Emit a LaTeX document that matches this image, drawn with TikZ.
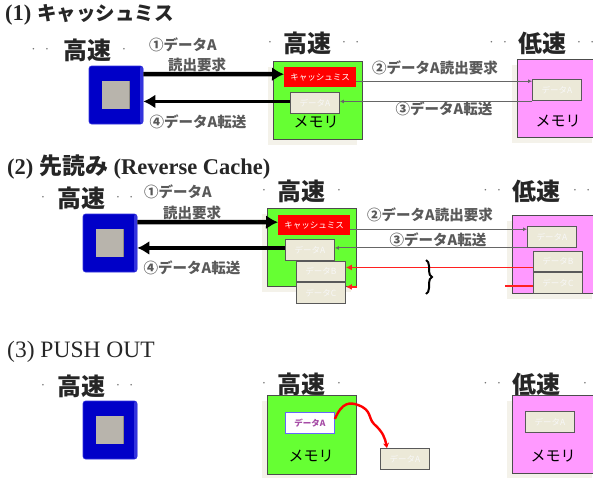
\documentclass[tikz,border=0pt]{standalone}
\usepackage{fontspec}
\setmainfont{Liberation Serif}
\newfontfamily\jpfont{Noto Sans CJK JP}
\usepackage{xcolor}
\usetikzlibrary{arrows.meta,positioning,shadows,decorations.pathreplacing}
\definecolor{cpublue}{HTML}{0000C8}
\definecolor{cpuedge}{HTML}{3333DD}
\definecolor{chipgray}{HTML}{B8B4AC}
\definecolor{chipedge}{HTML}{8E8B84}
\definecolor{memgreen}{HTML}{66FF33}
\definecolor{mempink}{HTML}{FF99FF}
\definecolor{databeige}{HTML}{ECE9D8}
\definecolor{halo}{HTML}{F4F2EA}
\definecolor{linkred}{HTML}{FF2020}
\begin{document}
\begin{tikzpicture}[x=1pt, y=-1pt,
  title/.style    = {anchor=west, inner sep=0pt, font=\fontsize{22.5}{24}\selectfont\bfseries, text=black!85},
  speed/.style    = {inner sep=0pt, font=\jpfont\fontsize{24}{26}\selectfont\bfseries, text=black!85},
  dotlab/.style   = {font=\fontsize{10}{12}\selectfont\bfseries, text=black!55, inner sep=0pt},
  cpu/.style      = {fill=cpublue, draw=cpuedge, line width=.6pt, rounded corners=2.5pt, minimum width=54pt, minimum height=58pt, inner sep=0pt,
                     path picture={\fill[cpuedge] ([xshift=-3pt]path picture bounding box.north east) rectangle (path picture bounding box.south east);}},
  chip/.style     = {fill=chipgray, minimum width=28pt, minimum height=28pt, inner sep=0pt,
                     path picture={\fill[chipedge] ([xshift=-1.5pt]path picture bounding box.north east) rectangle (path picture bounding box.south east);}},
  mem/.style      = {draw=black!70, line width=.9pt, anchor=north west, inner sep=0pt, minimum height=78pt,
                     drop shadow={shadow xshift=-5pt, shadow yshift=-6pt, fill=halo, opacity=1}},
  fastmem/.style  = {mem, fill=memgreen, minimum width=89pt},
  slowmem/.style  = {mem, fill=mempink},
  miss/.style     = {fill=red, anchor=north west, inner sep=0pt, minimum width=72pt, minimum height=20pt,
                     text=white, font=\jpfont\fontsize{8.5}{10}\selectfont},
  databox/.style  = {draw=black!65, line width=.9pt, fill=databeige, anchor=north west, inner sep=0pt,
                     minimum width=49pt, minimum height=21pt, text=black!3, font=\jpfont\fontsize{8.5}{10}\selectfont},
  memlab/.style   = {inner sep=0pt, font=\jpfont\fontsize{15}{17}\selectfont},
  lab/.style      = {inner sep=0pt, font=\jpfont\fontsize{14.5}{16}\selectfont\bfseries, text=black!65},
  bigarr/.style   = {-{Latex[length=12pt,width=14pt]}, line width=4.5pt},
  thinarr/.style  = {-{Latex[length=4pt,width=4pt]}, line width=1.1pt, draw=black!60},
  redarr/.style   = {-{Latex[length=6pt,width=6pt]}, line width=1.6pt, draw=linkred},
  redline/.style  = {line width=1.6pt, draw=linkred}
]
\useasboundingbox (0,0) rectangle (593,477);
%% ---- (1) ----------------------------------------------------------
\node[title] (titleA) at (5,15) {(1) {\jpfont\fontsize{19.5}{21}\selectfont キャッシュミス}};
\node[speed, label={[dotlab, label distance=14pt]left:·\hspace{10pt}·}, label={[dotlab, label distance=11pt]right:·}] (fastA) at (87,50) {高速};
\node[speed, label={[dotlab, label distance=11pt]left:·}, label={[dotlab, label distance=11pt]right:·\hspace{10pt}·}] (fastB) at (307,43) {高速};
\node[speed, label={[dotlab, label distance=11pt]left:·\hspace{10pt}·}, label={[dotlab, label distance=11pt]right:·\hspace{10pt}·}] (slowA) at (542,43) {低速};

\node[cpu] (cpuA) at (116,95) {};
\node[chip] at (cpuA) {};
\node[fastmem] (memA) at (273,61) {};
\node[slowmem, minimum width=80pt] (lowA) at (517,59) {};
\node[miss] (missA) at ([shift={(11,6)}]memA.north west) {キャッシュミス};
\node[databox] (dataA) at ([shift={(17,31)}]memA.north west) {データA};
\node[memlab] at (316,122) {メモリ};
\node[databox] (lowdataA) at ([shift={(15,20)}]lowA.north west) {データA};
\node[memlab] at (558,121) {メモリ};

\draw[bigarr] ([yshift=21pt]cpuA.east) -- ([yshift=3pt]missA.west);
\draw[bigarr, line width=3.5pt] ([yshift=1.5pt]dataA.west) -- ([yshift=1.5pt]dataA.west -| cpuA.east);
\draw[thinarr] ([yshift=-4pt]missA.east) -- ([yshift=-4pt]missA.east -| lowdataA.west);
\draw[thinarr] ([yshift=1.5pt]dataA.east -| lowdataA.west) -- ([yshift=1.5pt]dataA.east);

\node[lab] (reqA) at (183,45) {①データA};
\node[lab, below=6pt of reqA, xshift=14pt] {読出要求};
\node[lab] at (198,122) {④データA転送};
\node[lab] at (435,68) {②データA読出要求};
\node[lab] at (444,109) {③データA転送};

%% ---- (2) ----------------------------------------------------------
\node[title] (titleB) at (7,167) {(2) {\jpfont\fontsize{23}{25}\selectfont 先読み} (Reverse Cache)};
\node[speed, label={[dotlab, label distance=12pt]left:·}, label={[dotlab, label distance=11pt]right:·\hspace{10pt}·}] (fastC) at (81,198) {高速};
\node[speed, label={[dotlab, label distance=11pt]left:·}, label={[dotlab, label distance=12pt]right:·}] (fastD) at (301,191) {高速};
\node[speed, label={[dotlab, label distance=11pt]left:·\hspace{10pt}·}, label={[dotlab, label distance=13pt]right:·\hspace{10pt}·}] (slowB) at (536,191) {低速};

\node[cpu] (cpuB) at (110,243) {};
\node[chip] at (cpuB) {};
\node[fastmem] (memB) at (267,208) {};
\node[slowmem, minimum width=85pt] (lowB) at (512,215) {};
\node[miss] (missB) at ([shift={(11,7)}]memB.north west) {キャッシュミス};
\node[databox] (dataB) at ([shift={(18,31)}]memB.north west) {データA};
\node[databox, minimum height=20pt] (dataC) at (296,261) {データB};
\node[databox] (dataD) at (dataC.south west) {データC};
\node[databox] (lowdataB) at ([shift={(15,11)}]lowB.north west) {データA};
\node[databox, minimum height=20pt] (lowdataC) at (533,251) {データB};
\node[databox] (lowdataD) at (lowdataC.south west) {データC};

\draw[bigarr] ([yshift=21pt]cpuB.east) -- ([yshift=3pt]missB.west);
\draw[bigarr, line width=3.5pt] ([yshift=2pt]dataB.west) -- ([yshift=2pt]dataB.west -| cpuB.east);
\draw[thinarr] ([yshift=-4pt]missB.east) -- ([yshift=-4pt]missB.east -| lowdataB.west);
\draw[thinarr] (lowdataB.south west) -- (lowdataB.south west -| dataB.east);
\draw[redarr] ([yshift=-6pt]lowdataC.west) -- ([yshift=-6pt]lowdataC.west -| dataC.east);
\draw[redarr] (memB.south east) -- (memB.south east -| dataD.east);
\coordinate (redstub) at (505,286);
\draw[redline] (redstub) -- (redstub -| lowdataD.west);
\coordinate (braceT) at (426,260);
\coordinate (braceB) at (426,294);
\draw[line width=2pt, decorate, decoration={brace, amplitude=6pt}] (braceT) -- (braceB);

\node[lab] (reqB) at (178,192) {①データA};
\node[lab, below=6pt of reqB, xshift=14pt] {読出要求};
\node[lab] at (192,268) {④データA転送};
\node[lab] at (430,215) {②データA読出要求};
\node[lab] at (438,240) {③データA転送};

%% ---- (3) ----------------------------------------------------------
\node[title, font=\fontsize{23.5}{25}\selectfont] (titleC) at (7,352) {(3) PUSH OUT};
\node[speed, label={[dotlab, label distance=12pt]left:·}, label={[dotlab, label distance=11pt]right:·\hspace{10pt}·}] (fastE) at (81,386) {高速};
\node[speed, label={[dotlab, label distance=11pt]left:·}, label={[dotlab, label distance=12pt]right:·}] (fastF) at (301,384) {高速};
\node[speed, label={[dotlab, label distance=11pt]left:·\hspace{10pt}·}, label={[dotlab, label distance=23pt]right:·}] (slowC) at (536,384) {低速};

\node[cpu] (cpuC) at (110,430) {};
\node[chip] at (cpuC) {};
\node[fastmem, minimum height=79pt] (memC) at (267,395) {};
\node[slowmem, minimum width=85pt] (lowC) at (512,395) {};
\node[databox, fill=white, draw=blue!60, text=violet!70, font=\jpfont\fontsize{8.5}{10}\selectfont\bfseries] (dataE) at (285,412) {データA};
\node[memlab] at (311,456) {メモリ};
\node[databox] (pushed) at (380,448) {データA};
\node[databox] (lowdataE) at (525,411) {データA};
\node[memlab] at (553,456) {メモリ};

\draw[-{Stealth[length=5pt,width=6pt]}, red, line width=2.4pt] ([yshift=4pt]dataE.east)
  .. controls (342,402) and (350,402) .. (358,405)
  .. controls (372,410) and (368,418) .. (374,424)
  .. controls (383,432) and (385,438) .. ([xshift=-18pt]pushed.north);
\end{tikzpicture}
\end{document}
